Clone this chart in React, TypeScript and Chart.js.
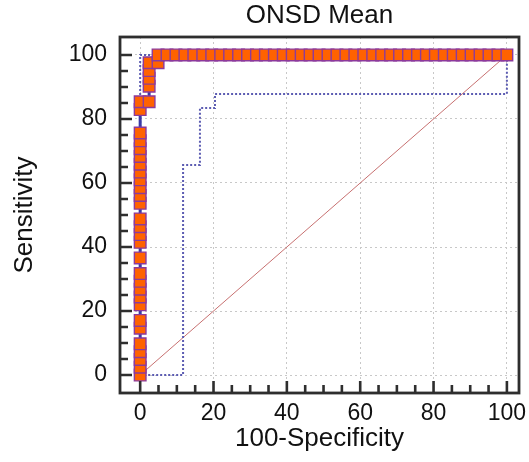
import { useEffect, useRef } from "react";
import { Chart, registerables } from "chart.js";

Chart.register(...registerables);

// ROC curve points (100-Specificity, Sensitivity)
const rocX = [
  0, 0, 0, 0, 0, 0, 0, 0, 0, 0, 0, 0, 0, 0, 0, 0, 0, 0, 0, 0, 0, 0, 0, 0, 0, 0, 0, 0, 0,
  2.44, 2.44, 2.44, 2.44, 2.44, 4.88, 4.88,
  7.32, 9.76, 12.2, 14.63, 17.07, 19.51, 21.95, 24.39, 26.83, 29.27, 31.71, 34.15, 36.59,
  39.02, 41.46, 43.9, 46.34, 48.78, 51.22, 53.66, 56.1, 58.54, 60.98, 63.41, 65.85, 68.29,
  70.73, 73.17, 75.61, 78.05, 80.49, 82.93, 85.37, 87.8, 90.24, 92.68, 95.12, 97.56, 100,
];
const rocY = [
  0, 2.44, 4.88, 7.32, 9.76, 14.63, 17.07, 21.95, 24.39, 26.83, 29.27, 31.71, 36.59, 41.46,
  43.9, 46.34, 48.78, 53.66, 56.1, 58.54, 60.98, 63.41, 65.85, 68.29, 70.73, 73.17, 75.61,
  82.93, 85.37,
  85.37, 90.24, 92.68, 95.12, 97.56, 97.56, 100,
  100, 100, 100, 100, 100, 100, 100, 100, 100, 100, 100, 100, 100,
  100, 100, 100, 100, 100, 100, 100, 100, 100, 100, 100, 100, 100,
  100, 100, 100, 100, 100, 100, 100, 100, 100, 100, 100, 100, 100,
];

// 95% confidence bounds
const lowerX = [0, 11.7, 11.7, 16.3, 16.3, 20.4, 20.4, 100, 100];
const lowerY = [0, 0, 65.6, 65.6, 83.4, 83.4, 87.8, 87.8, 100];
const upperX = [0, 0, 100];
const upperY = [0, 100, 100];

// Reference diagonal
const diagX = [0, 100];
const diagY = [0, 100];

const majorTicks = [0, 20, 40, 60, 80, 100];
const minorTicks = [5, 10, 15, 25, 30, 35, 45, 50, 55, 65, 70, 75, 85, 90, 95];

const toPts = (xs: number[], ys: number[]) => xs.map((x, i) => ({ x, y: ys[i] }));

const FONT = "'Liberation Sans', Arial, Helvetica, sans-serif";

const framePlugin = {
  id: "frame",
  afterDraw(chart: any) {
    const { ctx, chartArea: a } = chart;
    const xs = chart.scales.x;
    const ys = chart.scales.y;
    ctx.save();
    ctx.strokeStyle = "#2e2e2e";
    ctx.lineWidth = 2.6;
    ctx.beginPath();
    majorTicks.forEach((v) => {
      const px = xs.getPixelForValue(v);
      ctx.moveTo(px, a.bottom);
      ctx.lineTo(px, a.bottom - 12);
      const py = ys.getPixelForValue(v);
      ctx.moveTo(a.left, py);
      ctx.lineTo(a.left + 12, py);
    });
    minorTicks.forEach((v) => {
      const px = xs.getPixelForValue(v);
      ctx.moveTo(px, a.bottom);
      ctx.lineTo(px, a.bottom - 8);
      const py = ys.getPixelForValue(v);
      ctx.moveTo(a.left, py);
      ctx.lineTo(a.left + 8, py);
    });
    ctx.stroke();
    ctx.lineWidth = 2.8;
    ctx.strokeRect(a.left, a.top, a.right - a.left, a.bottom - a.top);
    ctx.restore();
  },
};

export default function App() {
  const ref = useRef<HTMLCanvasElement | null>(null);

  useEffect(() => {
    if (!ref.current) return;
    Chart.defaults.font.family = FONT;
    const chart = new Chart(ref.current, {
      type: "line",
      data: {
        datasets: [
          {
            label: "ONSD Mean",
            data: toPts(rocX, rocY),
            borderColor: "#3a3aa6",
            borderWidth: 3,
            pointStyle: "rect",
            pointRadius: 8.2,
            pointBackgroundColor: "#ff6200",
            pointBorderColor: "#8c3a9c",
            pointBorderWidth: 1.4,
            tension: 0,
            fill: false,
          },
          {
            label: "Lower",
            data: toPts(lowerX, lowerY),
            borderColor: "#5c5cb2",
            borderWidth: 2,
            borderDash: [2, 2],
            pointRadius: 0,
            tension: 0,
            fill: false,
          },
          {
            label: "Upper",
            data: toPts(upperX, upperY),
            borderColor: "#5c5cb2",
            borderWidth: 2,
            borderDash: [2, 2],
            pointRadius: 0,
            tension: 0,
            fill: false,
          },
          {
            label: "Diagonal",
            data: toPts(diagX, diagY),
            borderColor: "#c77070",
            borderWidth: 1,
            pointRadius: 0,
            tension: 0,
            fill: false,
          },
        ],
      },
      options: {
        animation: false,
        responsive: false,
        devicePixelRatio: 1,
        layout: { padding: { left: 0, right: 10, top: 0, bottom: 0 } },
        plugins: {
          legend: { display: false },
          tooltip: { enabled: false },
          title: {
            display: true,
            text: "ONSD Mean",
            color: "#111",
            fullSize: false,
            font: { size: 26, weight: "normal", family: FONT },
            padding: { top: 0.5, bottom: 5.3 },
          },
        },
        scales: {
          x: {
            type: "linear",
            min: -5.5,
            max: 103.3,
            afterFit: (s: any) => {
              s.height = 69;
              s.paddingLeft = 0;
              s.paddingRight = 0;
            },
            ticks: {
              stepSize: 20,
              includeBounds: false,
              color: "#111",
              padding: 7,
              maxRotation: 0,
              font: { size: 23, family: FONT },
            },
            grid: { color: "#c8c8c8", lineWidth: 1, drawTicks: false },
            border: { display: false, dash: [2, 3] },
            title: {
              display: true,
              text: "100-Specificity",
              color: "#111",
              font: { size: 26, family: FONT },
              padding: { top: 0, bottom: 8 },
            },
          },
          y: {
            type: "linear",
            min: -5.6,
            max: 105.6,
            afterFit: (s: any) => {
              s.width = 120;
              s.paddingTop = 0;
              s.paddingBottom = 0;
            },
            ticks: {
              stepSize: 20,
              includeBounds: false,
              color: "#111",
              padding: 13,
              font: { size: 23, family: FONT },
            },
            grid: { color: "#c8c8c8", lineWidth: 1, drawTicks: false },
            border: { display: false, dash: [2, 3] },
            title: {
              display: true,
              text: "Sensitivity",
              color: "#111",
              font: { size: 26, family: FONT },
              padding: { top: 9, bottom: 0 },
            },
          },
        },
      },
      plugins: [framePlugin],
    });
    return () => chart.destroy();
  }, []);

  return (
    <div style={{ position: "fixed", left: 0, top: 0, width: 529, height: 462, background: "#fff" }}>
      <canvas ref={ref} width={529} height={462} />
    </div>
  );
}
